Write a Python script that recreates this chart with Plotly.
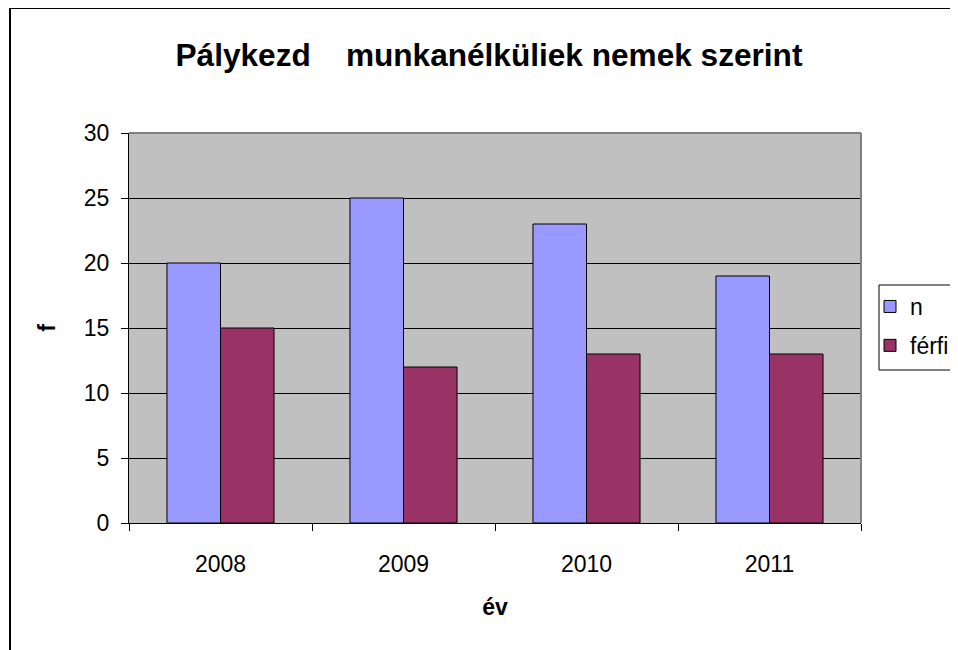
import plotly.graph_objects as go

years = ["2008", "2009", "2010", "2011"]
n_values = [20, 25, 23, 19]
ferfi_values = [15, 12, 13, 13]
y_ticks = [0, 5, 10, 15, 20, 25, 30]

# page has an 8px body margin; figure coordinates = page - 8
OFF = 8
W, H = 950, 642
L, R, T, B = 121, 97, 125, 127
pw = W - L - R
ph = H - T - B

def px(x_page):
    return (x_page - OFF - L) / pw

def py(y_page):
    return (H - B - (y_page - OFF)) / ph

FONT = "Liberation Sans, Arial, sans-serif"

fig = go.Figure()
fig.add_trace(go.Bar(x=years, y=n_values, name="n", legendgroup="a",
                     marker=dict(color="#9999FF", line=dict(color="black", width=1))))
fig.add_trace(go.Bar(x=years, y=ferfi_values, name="férfi", legendgroup="b",
                     marker=dict(color="#993366", line=dict(color="black", width=1))))

fig.update_layout(
    width=W, height=H,
    margin=dict(l=L, r=R, t=T, b=B, autoexpand=False),
    paper_bgcolor="white",
    plot_bgcolor="#C0C0C0",
    barmode="group",
    bargap=0.415,
    bargroupgap=0,
    font=dict(family=FONT, size=23, color="black"),
    title=dict(text="<b>Pálykezd    munkanélküliek nemek szerint</b>",
               x=(489 - OFF) / W, xanchor="center", xref="container",
               y=1 - (55 - OFF) / H, yanchor="middle", yref="container",
               font=dict(family=FONT, size=31.6, color="black")),
    legend=dict(x=px(870), xanchor="left", y=py(285), yanchor="top",
                borderwidth=0, bgcolor="rgba(0,0,0,0)",
                font=dict(family=FONT, size=23), tracegroupgap=6,
                itemwidth=30),
    xaxis=dict(type="category", showline=True, linecolor="black", linewidth=1,
               ticks="outside", ticklen=7, tickcolor="black", tickson="boundaries",
               showgrid=False, ticklabelstandoff=20,
               title=dict(text="<b>év</b>", font=dict(size=23), standoff=23)),
    yaxis=dict(range=[0, 30], tickvals=y_ticks, showline=True, linecolor="black",
               linewidth=1, ticks="outside", ticklen=7, tickcolor="black",
               showgrid=True, gridcolor="black", gridwidth=1, zeroline=False,
               ticklabelstandoff=7,
               title=dict(text="<b>f</b>", font=dict(size=23), standoff=21)),
    shapes=[
        # gray top/right plot border
        dict(type="line", xref="paper", yref="paper", x0=0, x1=1, y0=1, y1=1,
             line=dict(color="#808080", width=2), layer="above"),
        dict(type="line", xref="paper", yref="paper", x0=1, x1=1, y0=0, y1=1,
             line=dict(color="#808080", width=2), layer="above"),
        # outer chart border
        dict(type="rect", xref="paper", yref="paper",
             x0=px(10), x1=px(1000), y0=py(8), y1=py(700),
             line=dict(color="black", width=2), layer="below"),
        # legend frame
        dict(type="rect", xref="paper", yref="paper",
             x0=px(879), x1=px(1000), y0=py(285), y1=py(370),
             line=dict(color="black", width=1), fillcolor="white", layer="below"),
    ],
)

fig.write_html("out.html")
